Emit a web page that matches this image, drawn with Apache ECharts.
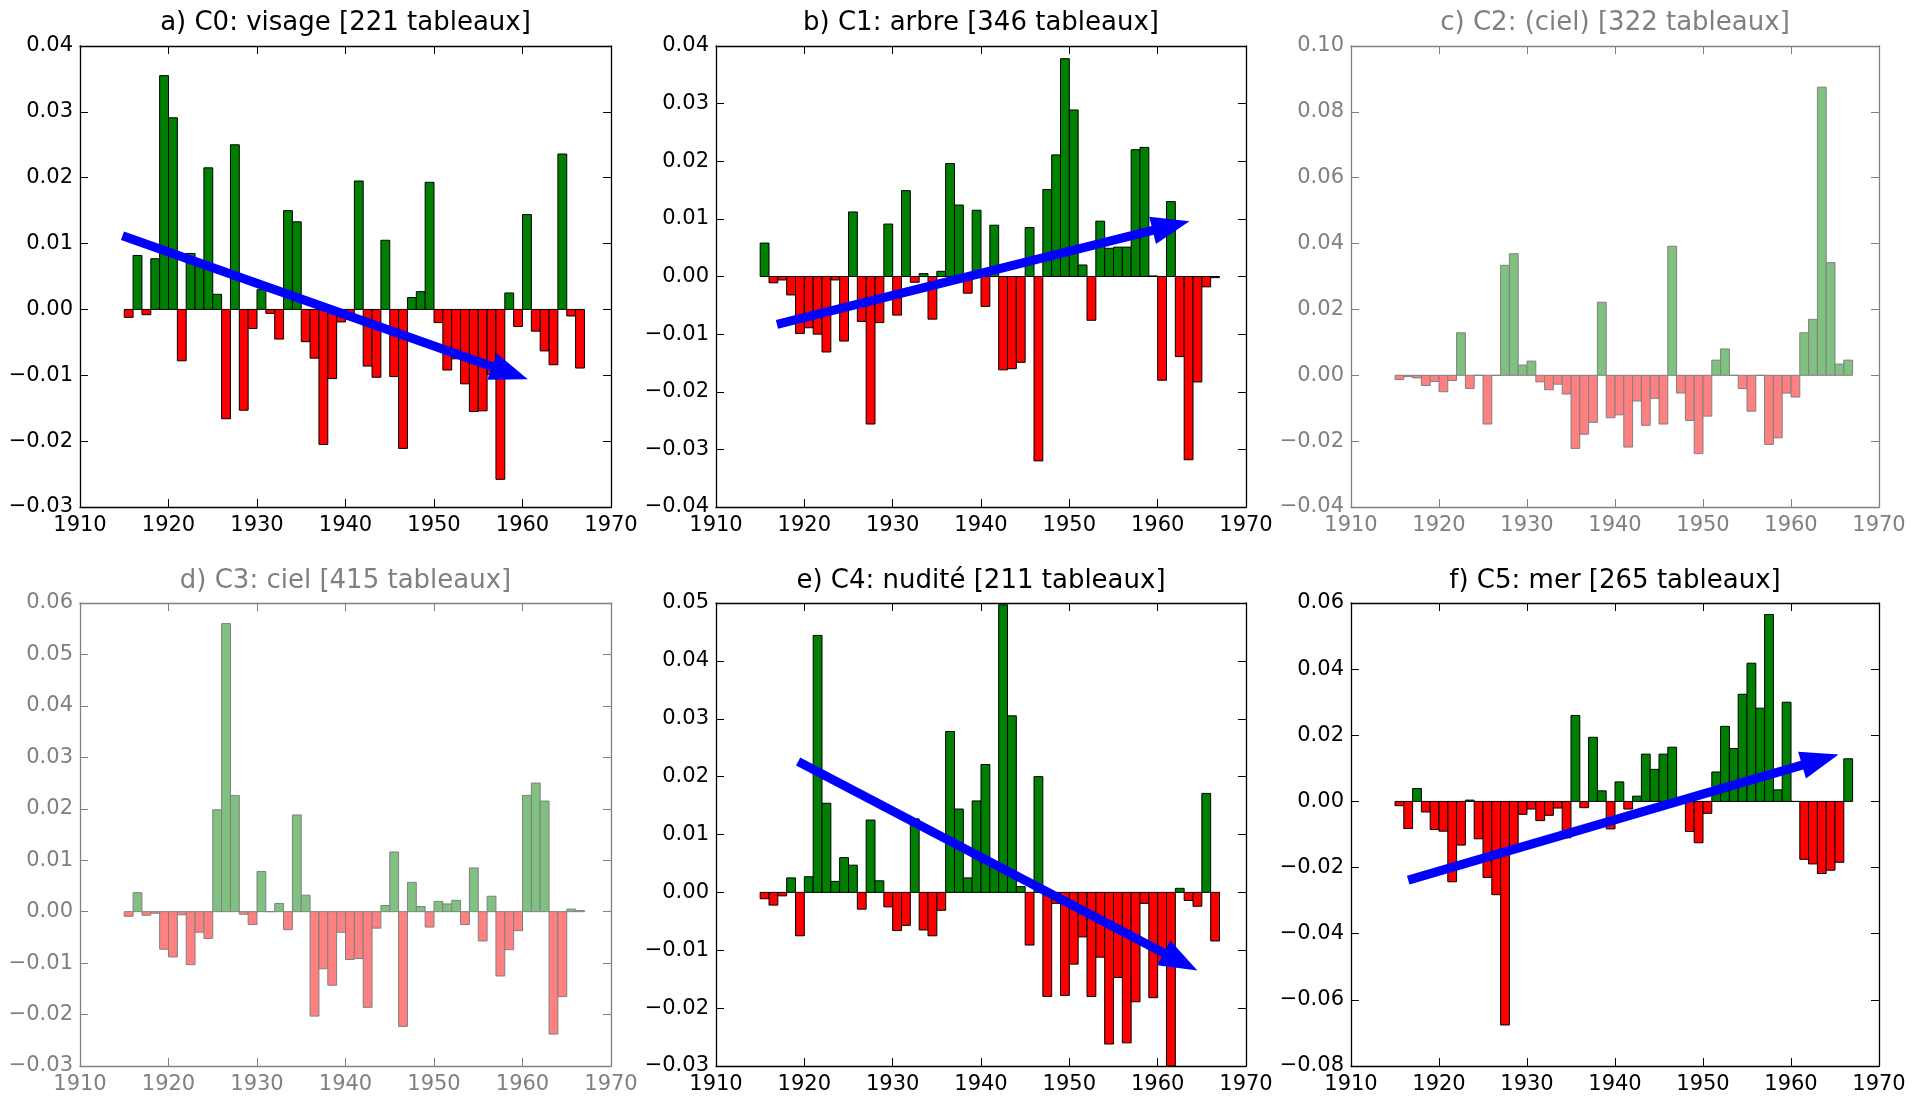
<!DOCTYPE html>
<html>
<head>
<meta charset="utf-8">
<title>C0-C5 par année</title>
<script src="https://cdn.jsdelivr.net/npm/echarts@6/dist/echarts.min.js"></script>
<style>
  html, body { margin: 0; padding: 0; background: #ffffff; }
  #main { width: 1926px; height: 1096px; }
</style>
</head>
<body>
<div id="main"></div>
<script>
// années (chaque barre couvre [année, année+1])
var years = [1915, 1916, 1917, 1918, 1919, 1920, 1921, 1922, 1923, 1924,
             1925, 1926, 1927, 1928, 1929, 1930, 1931, 1932, 1933, 1934,
             1935, 1936, 1937, 1938, 1939, 1940, 1941, 1942, 1943, 1944,
             1945, 1946, 1947, 1948, 1949, 1950, 1951, 1952, 1953, 1954,
             1955, 1956, 1957, 1958, 1959, 1960, 1961, 1962, 1963, 1964,
             1965, 1966];

// C0: visage
var c0 = [-0.0012, 0.0082, -0.0008, 0.0077, 0.0355, 0.0291, -0.0078, 0.0085, 0.0068, 0.0215,
          0.0023, -0.0166, 0.0250, -0.0153, -0.0029, 0.0030, -0.0006, -0.0045, 0.0150, 0.0133,
          -0.0049, -0.0074, -0.0205, -0.0105, -0.0019, -0.0015, 0.0195, -0.0086, -0.0103, 0.0105,
          -0.0102, -0.0211, 0.0018, 0.0027, 0.0193, -0.0020, -0.0092, -0.0075, -0.0113, -0.0155,
          -0.0154, -0.0099, -0.0258, 0.0025, -0.0026, 0.0144, -0.0033, -0.0063, -0.0084, 0.0236,
          -0.0010, -0.0089];
// C1: arbre
var c1 = [0.0058, -0.0011, -0.0006, -0.0032, -0.0099, -0.0089, -0.0100, -0.0131, -0.0006, -0.0112,
          0.0112, -0.0078, -0.0256, -0.0080, 0.0091, -0.0067, 0.0149, -0.0010, 0.0005, -0.0074,
          0.0009, 0.0196, 0.0124, -0.0029, 0.0115, -0.0052, 0.0089, -0.0162, -0.0160, -0.0149,
          0.0085, -0.0320, 0.0151, 0.0211, 0.0378, 0.0289, 0.0020, -0.0076, 0.0096, 0.0049,
          0.0051, 0.0051, 0.0220, 0.0224, 0.0001, -0.0180, 0.0130, -0.0139, -0.0318, -0.0183,
          -0.0018, -0.0002];
// C2: (ciel)
var c2 = [-0.0013, -0.0004, -0.0008, -0.0031, -0.0019, -0.0050, -0.0016, 0.0129, -0.0040, 0.0000,
          -0.0148, 0.0000, 0.0334, 0.0369, 0.0031, 0.0043, -0.0020, -0.0044, -0.0027, -0.0057,
          -0.0222, -0.0179, -0.0143, 0.0222, -0.0129, -0.0120, -0.0218, -0.0078, -0.0152, -0.0070,
          -0.0148, 0.0392, -0.0054, -0.0137, -0.0238, -0.0124, 0.0046, 0.0080, 0.0000, -0.0040,
          -0.0109, 0.0000, -0.0210, -0.0190, -0.0054, -0.0066, 0.0129, 0.0170, 0.0875, 0.0342,
          0.0034, 0.0046];
// C3: ciel
var c3 = [-0.0009, 0.0037, -0.0007, -0.0003, -0.0073, -0.0088, -0.0006, -0.0103, -0.0040, -0.0052,
          0.0198, 0.0560, 0.0226, -0.0005, -0.0025, 0.0078, 0.0000, 0.0016, -0.0035, 0.0188,
          0.0032, -0.0203, -0.0111, -0.0143, -0.0040, -0.0093, -0.0091, -0.0186, -0.0032, 0.0012,
          0.0116, -0.0223, 0.0057, 0.0010, -0.0030, 0.0020, 0.0015, 0.0022, -0.0025, 0.0085,
          -0.0057, 0.0030, -0.0125, -0.0074, -0.0037, 0.0226, 0.0250, 0.0215, -0.0238, -0.0165,
          0.0005, 0.0002];
// C4: nudité
var c4 = [-0.0011, -0.0022, -0.0006, 0.0025, -0.0075, 0.0027, 0.0444, 0.0154, 0.0019, 0.0060,
          0.0047, -0.0029, 0.0125, 0.0020, -0.0025, -0.0066, -0.0057, 0.0127, -0.0065, -0.0075,
          -0.0031, 0.0278, 0.0144, 0.0025, 0.0158, 0.0221, 0.0045, 0.0497, 0.0305, 0.0010,
          -0.0091, 0.0200, -0.0180, -0.0019, -0.0178, -0.0124, -0.0077, -0.0180, -0.0112, -0.0262,
          -0.0147, -0.0260, -0.0189, -0.0019, -0.0182, -0.0121, -0.0320, 0.0007, -0.0014, -0.0024,
          0.0171, -0.0084];
// C5: mer
var c5 = [-0.0013, -0.0082, 0.0039, -0.0032, -0.0085, -0.0090, -0.0243, -0.0132, 0.0004, -0.0113,
          -0.0230, -0.0282, -0.0676, -0.0152, -0.0039, -0.0023, -0.0058, -0.0042, -0.0020, -0.0110,
          0.0260, -0.0019, 0.0194, 0.0032, -0.0083, 0.0059, -0.0023, 0.0016, 0.0143, 0.0097,
          0.0143, 0.0164, 0.0003, -0.0091, -0.0125, -0.0036, 0.0089, 0.0227, 0.0160, 0.0324,
          0.0418, 0.0282, 0.0565, 0.0035, 0.0300, 0.0000, -0.0175, -0.0189, -0.0218, -0.0208,
          -0.0184, 0.0129];

var series = [c0, c1, c2, c3, c4, c5];
var titles = ['a) C0: visage [221 tableaux]', 'b) C1: arbre [346 tableaux]',
              'c) C2: (ciel) [322 tableaux]', 'd) C3: ciel [415 tableaux]',
              'e) C4: nudité [211 tableaux]', 'f) C5: mer [265 tableaux]'];
var yMin = [-0.03, -0.04, -0.04, -0.03, -0.03, -0.08];
var yMax = [0.04, 0.04, 0.10, 0.06, 0.05, 0.06];
var yStep = [0.01, 0.01, 0.02, 0.01, 0.01, 0.02];
var xTicks = [1910, 1920, 1930, 1940, 1950, 1960, 1970];
// flèches de tendance: [x début, y début, x pointe, y pointe]
var arrows = [[1914.8, 0.0112, 1960.6, -0.0106],
              [1916.9, -0.0083, 1963.6, 0.0096],
              null,
              null,
              [1919.3, 0.0226, 1964.5, -0.0135],
              [1916.5, -0.0238, 1965.4, 0.0142]];
var faded = [false, false, true, true, false, false];

var chart = echarts.init(document.getElementById('main'), null, { renderer: 'canvas' });

var gridLeft = [80, 716, 1351];
var gridWidth = [531, 530, 528];
var gridTop = [46, 603];
var gridHeight = [461, 463];
var titleTop = [10, 568];
var font = 'DejaVu Sans';

function fmtY(v) {
    var s = Math.abs(v).toFixed(2);
    return (v < -1e-9 ? '\u2212' : '') + s;
}

function renderBar(params, api) {
    var x = api.value(0);
    var v = api.value(1);
    var p0 = api.coord([x, 0]);
    var p1 = api.coord([x + 1, v]);
    var rect = echarts.graphic.clipRectByRect({
        x: p0[0],
        y: Math.min(p0[1], p1[1]),
        width: p1[0] - p0[0],
        height: Math.abs(p1[1] - p0[1])
    }, params.coordSys);
    if (!rect) return;
    var f = faded[params.seriesIndex >> 1];
    var fill = v >= 0 ? (f ? '#80c080' : '#008000') : (f ? '#ff8080' : '#ff0000');
    return {
        type: 'rect',
        shape: rect,
        style: { fill: fill, stroke: f ? '#808080' : '#000000', lineWidth: 1 }
    };
}

function renderArrow(params, api) {
    var a = api.coord([api.value(0), api.value(1)]);
    var b = api.coord([api.value(2), api.value(3)]);
    var dx = b[0] - a[0], dy = b[1] - a[1];
    var len = Math.sqrt(dx * dx + dy * dy);
    var ux = dx / len, uy = dy / len;
    var nx = -uy, ny = ux;
    var hl = 38, hw = 28, sw = 9;
    var bx = b[0] - ux * hl, by = b[1] - uy * hl;
    var pts = [
        [a[0] + nx * sw / 2, a[1] + ny * sw / 2],
        [bx + nx * sw / 2, by + ny * sw / 2],
        [bx + nx * hw / 2, by + ny * hw / 2],
        [b[0], b[1]],
        [bx - nx * hw / 2, by - ny * hw / 2],
        [bx - nx * sw / 2, by - ny * sw / 2],
        [a[0] - nx * sw / 2, a[1] - ny * sw / 2]
    ];
    return { type: 'polygon', shape: { points: pts }, style: { fill: '#0000ff' } };
}

var option = {
    backgroundColor: '#ffffff',
    animation: false,
    title: [],
    grid: [],
    xAxis: [],
    yAxis: [],
    series: []
};

for (var i = 0; i < 6; i++) {
    var col = i % 3, row = Math.floor(i / 3);
    var fg = faded[i] ? '#808080' : '#000000';

    option.title.push({
        text: titles[i],
        left: gridLeft[col] + gridWidth[col] / 2,
        top: titleTop[row],
        textAlign: 'center',
        padding: 0,
        textStyle: { color: fg, fontSize: 26, fontWeight: 'normal', fontFamily: font }
    });

    option.grid.push({
        left: gridLeft[col],
        top: gridTop[row],
        width: gridWidth[col],
        height: gridHeight[row],
        outerBoundsMode: 'none',
        containLabel: false
    });

    var axisLine = { show: true, onZero: false, lineStyle: { color: fg, width: 1.3 } };
    var axisTick = { show: true, inside: true, length: 8, lineStyle: { color: fg, width: 1 } };

    // bas et haut
    ['bottom', 'top'].forEach(function (pos) {
        option.xAxis.push({
            gridIndex: i,
            type: 'value',
            position: pos,
            min: xTicks[0],
            max: xTicks[xTicks.length - 1],
            interval: 10,
            axisLine: axisLine,
            axisTick: axisTick,
            splitLine: { show: false },
            axisLabel: {
                show: pos === 'bottom',
                color: fg,
                fontSize: 21,
                fontFamily: font,
                margin: 8,
                formatter: function (v) { return String(Math.round(v)); }
            }
        });
    });
    // gauche et droite
    ['left', 'right'].forEach(function (pos) {
        option.yAxis.push({
            gridIndex: i,
            type: 'value',
            position: pos,
            min: yMin[i],
            max: yMax[i],
            interval: yStep[i],
            axisLine: axisLine,
            axisTick: axisTick,
            splitLine: { show: false },
            axisLabel: {
                show: pos === 'left',
                color: fg,
                fontSize: 21,
                fontFamily: font,
                margin: 7,
                formatter: fmtY
            }
        });
    });

    var bars = [];
    for (var k = 0; k < years.length; k++) {
        bars.push([years[k], series[i][k]]);
    }
    option.series.push({
        type: 'custom',
        name: titles[i],
        xAxisIndex: i * 2,
        yAxisIndex: i * 2,
        renderItem: renderBar,
        encode: { x: 0, y: 1 },
        data: bars,
        z: 2
    });
    option.series.push({
        type: 'custom',
        xAxisIndex: i * 2,
        yAxisIndex: i * 2,
        renderItem: renderArrow,
        encode: { x: [0, 2], y: [1, 3] },
        data: arrows[i] ? [arrows[i]] : [],
        z: 3
    });
}

chart.setOption(option);
</script>
</body>
</html>
